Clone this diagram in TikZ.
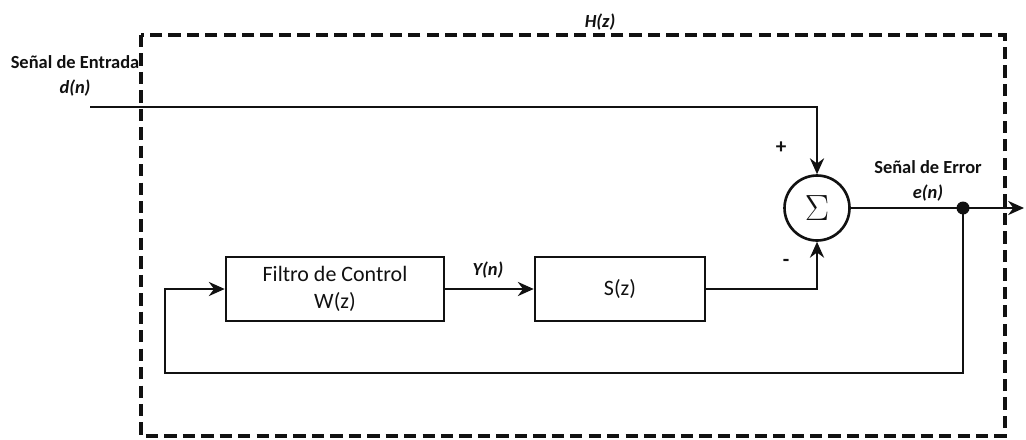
\documentclass[tikz,border=0pt]{standalone}
\usepackage{fontspec}
\setmainfont{Carlito}
\usetikzlibrary{
  arrows.meta,
  positioning,
  calc
}
\definecolor{linegray}{HTML}{111111}

\begin{document}
\begin{tikzpicture}[
    x=0.02cm, y=-0.02cm,
    every node/.style={font=\small, text=linegray},
    wire/.style={draw=linegray, line width=1.5pt},
    sig/.style={wire, -{Stealth[length=9pt, width=8pt]}},
    blockbox/.style={rectangle, draw=linegray, line width=1.5pt,
                     minimum height=1.28cm, align=center, inner sep=0pt,
                     font=\fontsize{12.5}{15}\selectfont},
    sumnode/.style={circle, draw=linegray, line width=1.5pt,
                    minimum size=1.3cm, inner sep=0pt},
    tag/.style={font=\fontsize{10.5}{12}\selectfont\bfseries},
    sigtag/.style={font=\fontsize{10.5}{12}\selectfont\bfseries\itshape},
]
\useasboundingbox (0,0) rectangle (1026,439);

% outer dashed boundary H(z)
\draw[linegray, line width=1.8pt, dash pattern=on 7pt off 3.5pt]
    (141,35) rectangle (1005,436);
\node[sigtag] (hz) at (600,22) {H(z)};

% blocks
\node[sumnode] (sum) at (817,208) {\fontsize{22}{22}\selectfont$\Sigma$};
\node[blockbox, minimum width=4.36cm] (filtro) at (335,289)
    {Filtro de Control\\W(z)};
\node[blockbox, minimum width=3.4cm] (sz) at (620,289) {S(z)};

% input signal
\coordinate (inp) at (90,107);
\node[tag] (entrada) at (75,62) {Señal de Entrada};
\node[sigtag, below=-0.02cm of entrada] (dn) {d(n)};
\draw[sig] (inp) -| (sum.north);
\node[font=\large\bfseries] (plus) at (781,148) {+};

% error output
\node[circle, fill=linegray, inner sep=0pt, minimum size=0.26cm] (dot) at (963,208) {};
\coordinate (outp) at (1024,208);
\draw[sig] (sum.east) -- (dot.center) -- (outp);
\node[tag] (error) at (928,167) {Señal de Error};
\node[sigtag, below=-0.02cm of error] (en) {e(n)};

% forward path
\draw[sig] (filtro.east) -- (sz.west);
\node[sigtag] (yn) at (488,270) {Y(n)};
\draw[sig] (sz.east) -| (sum.south);
\node[font=\large\bfseries] (minus) at (786,263) {-};

% feedback path
\coordinate (fbR) at (963,373);
\coordinate (fbL) at (165,373);
\draw[sig] (dot.center) -- (fbR) -- (fbL) |- (filtro.west);

\end{tikzpicture}
\end{document}
